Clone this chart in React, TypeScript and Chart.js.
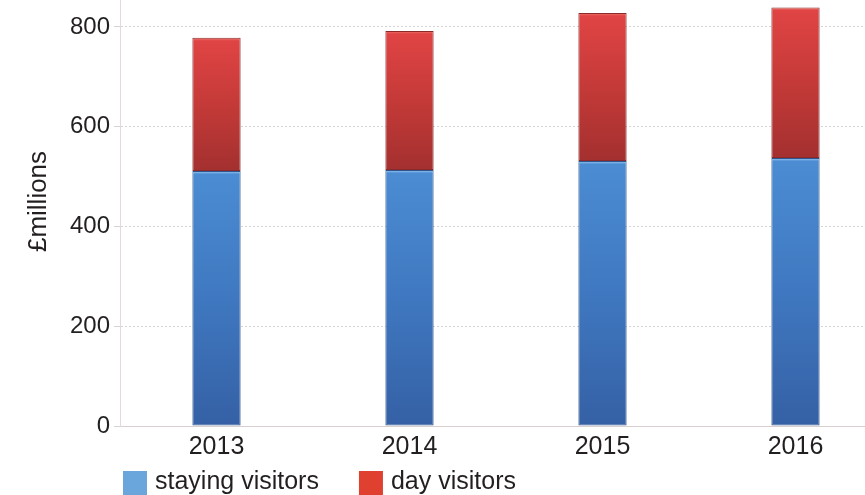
import React, { useEffect, useRef } from "react";
import { Chart, registerables } from "chart.js";

Chart.register(...registerables);

const categories = ["2013", "2014", "2015", "2016"];
const stayingVisitors = [511, 513, 531, 537];
const dayVisitors = [267, 279, 297, 302];
const seriesNames = ["staying visitors", "day visitors"];
const yTickStep = 200;
const yMax = 900;

const FONT = "'Liberation Sans', Arial, Helvetica, sans-serif";
const TEXT = "#231f20";

const legendSwatch = ["#6aa5dc", "#e0402f"];

function segmentGradient(c: any, dsIndex: number) {
  const chart = c.chart;
  const { ctx, chartArea, scales } = chart;
  const fallback = dsIndex === 0 ? "#4277c0" : "#c63a36";
  if (!chartArea || c.dataIndex === undefined) return fallback;
  const i = c.dataIndex;
  const start = dsIndex === 0 ? 0 : stayingVisitors[i];
  const end = dsIndex === 0 ? stayingVisitors[i] : stayingVisitors[i] + dayVisitors[i];
  const top = scales.y.getPixelForValue(end);
  const bottom = scales.y.getPixelForValue(start);
  const h = Math.max(1, bottom - top);
  const g = ctx.createLinearGradient(0, top, 0, bottom);
  const hl = Math.min(0.5, 3 / h);
  if (dsIndex === 0) {
    g.addColorStop(0, "#a9d2f4");
    g.addColorStop(hl, "#4b8cd2");
    g.addColorStop(0.5, "#3f78c0");
    g.addColorStop(1, "#3560a5");
  } else {
    g.addColorStop(0, "#ee7a70");
    g.addColorStop(hl, "#e04444");
    g.addColorStop(0.5, "#c43a38");
    g.addColorStop(1, "#a3302f");
  }
  return g;
}

const legendPlugin = {
  id: "customLegend",
  afterDraw(chart: any) {
    const { ctx, chartArea } = chart;
    ctx.save();
    ctx.font = `25px ${FONT}`;
    ctx.textBaseline = "alphabetic";
    ctx.textAlign = "left";
    let x = chartArea.left + 3;
    const boxTop = 494;
    const baseline = 512;
    seriesNames.forEach((name, idx) => {
      ctx.fillStyle = legendSwatch[idx];
      ctx.fillRect(x, boxTop, 24, 24);
      ctx.fillStyle = TEXT;
      ctx.fillText(name, x + 32, baseline);
      x += 32 + ctx.measureText(name).width + 40;
    });
    ctx.restore();
  },
};

export default function App() {
  const ref = useRef<HTMLCanvasElement | null>(null);

  useEffect(() => {
    if (!ref.current) return;
    const chart = new Chart(ref.current, {
      type: "bar",
      data: {
        labels: categories,
        datasets: [
          {
            label: seriesNames[0],
            data: stayingVisitors,
            backgroundColor: (c: any) => segmentGradient(c, 0),
            borderColor: "#2e5590",
            borderWidth: 1,
            borderSkipped: false,
            barPercentage: 0.25,
            categoryPercentage: 1,
          },
          {
            label: seriesNames[1],
            data: dayVisitors,
            backgroundColor: (c: any) => segmentGradient(c, 1),
            borderColor: "#8c2a2a",
            borderWidth: 1,
            borderSkipped: false,
            barPercentage: 0.25,
            categoryPercentage: 1,
          },
        ],
      },
      options: {
        animation: false,
        responsive: true,
        maintainAspectRatio: false,
        layout: { padding: { left: 0, right: 8, top: 0, bottom: 33 } },
        plugins: {
          legend: { display: false },
          tooltip: { enabled: false },
        },
        scales: {
          x: {
            stacked: true,
            offset: true,
            grid: { display: false, drawTicks: false, tickLength: 0 },
            border: { display: true, color: "#d9cfcf", width: 1 },
            ticks: {
              color: TEXT,
              font: { family: FONT, size: 25 },
              padding: 6,
              maxRotation: 0,
            },
            afterFit: (s: any) => {
              s.height = 36;
              s.paddingLeft = 0;
              s.paddingRight = 0;
            },
          },
          y: {
            stacked: true,
            min: 0,
            max: yMax,
            grid: { color: "#d4d4d4", lineWidth: 1, tickLength: 6, drawTicks: true },
            border: { display: true, color: "#e6d9d9", width: 1, dash: [2, 2] },
            ticks: {
              stepSize: yTickStep,
              includeBounds: false,
              color: TEXT,
              font: { family: FONT, size: 24 },
              padding: 4,
            },
            title: {
              display: true,
              text: "£millions",
              color: TEXT,
              font: { family: FONT, size: 26 },
              padding: { top: 23, bottom: 0 },
            },
            afterFit: (s: any) => {
              s.width = 120;
              s.paddingTop = 0;
              s.paddingBottom = 0;
            },
          },
        },
      },
      plugins: [legendPlugin],
    });
    return () => chart.destroy();
  }, []);

  return (
    <div
      style={{
        position: "fixed",
        left: 0,
        top: 0,
        width: 865,
        height: 495,
        overflow: "hidden",
        background: "#fff",
      }}
    >
      <div style={{ position: "absolute", left: 0, top: -23, width: 900, height: 518 }}>
        <canvas ref={ref} />
      </div>
    </div>
  );
}
